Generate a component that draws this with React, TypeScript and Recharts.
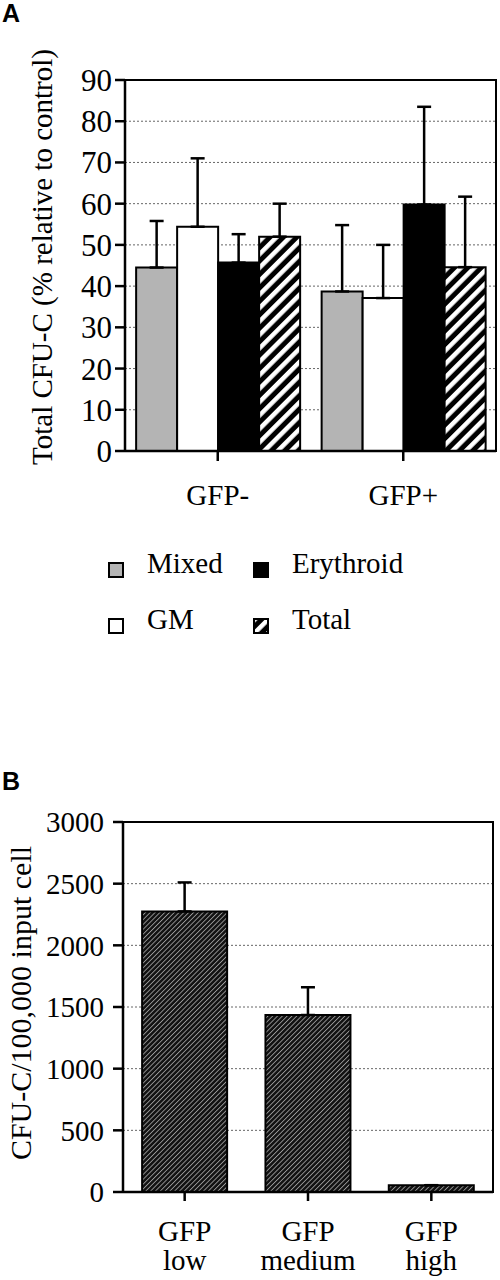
import {
  BarChart,
  Bar,
  XAxis,
  YAxis,
  CartesianGrid,
  ErrorBar,
  ReferenceArea,
  Label,
} from "recharts";

const SERIF = "'Liberation Serif', 'Times New Roman', serif";

// panel A
const groupsA = ["GFP-", "GFP+"];
const mixedVals = [44.5, 38.7];
const mixedErr = [11.3, 16.1];
const gmVals = [54.4, 37.1];
const gmErr = [16.6, 12.9];
const erythroidVals = [45.7, 59.8];
const erythroidErr = [6.9, 23.7];
const totalVals = [52, 44.6];
const totalErr = [8, 17.1];
const ticksA = [0, 10, 20, 30, 40, 50, 60, 70, 80, 90];

// panel B
const groupsB = ["GFP low", "GFP medium", "GFP high"];
const cfuVals = [2275, 1435, 55];
const cfuErr = [235, 225, 0];
const ticksB = [0, 500, 1000, 1500, 2000, 2500, 3000];

const seriesA = [
  { key: "mixed", name: "Mixed", fill: "#b4b4b4" },
  { key: "gm", name: "GM", fill: "#ffffff" },
  { key: "erythroid", name: "Erythroid", fill: "#000000" },
  { key: "total", name: "Total", fill: "url(#stripesA)" },
];
// legend is laid out row by row: Mixed, Erythroid / GM, Total
const legendOrder = ["mixed", "erythroid", "gm", "total"];

const dataA = groupsA.map((g, i) => ({
  group: g,
  mixed: mixedVals[i],
  mixedErr: [0, mixedErr[i]],
  gm: gmVals[i],
  gmErr: [0, gmErr[i]],
  erythroid: erythroidVals[i],
  erythroidErr: [0, erythroidErr[i]],
  total: totalVals[i],
  totalErr: [0, totalErr[i]],
}));

const dataB = groupsB.map((g, i) => ({
  group: g,
  value: cfuVals[i],
  err: [0, cfuErr[i]],
}));

const TwoLineTick = (props: any) => {
  const { x, y, payload } = props;
  const [first, ...rest] = String(payload.value).split(" ");
  return (
    <text x={x} y={y} textAnchor="middle" fill="#000" fontSize={29} fontFamily={SERIF}>
      <tspan x={x} dy="0.71em">{first}</tspan>
      <tspan x={x} dy="1em">{rest.join(" ")}</tspan>
    </text>
  );
};

const axisLabel = (text: string, x: number, y: number, size: number) => () =>
  (
    <text
      x={x}
      y={y}
      transform={`rotate(-90 ${x} ${y})`}
      textAnchor="middle"
      dominantBaseline="central"
      fill="#000"
      fontSize={size}
      fontFamily={SERIF}
    >
      {text}
    </text>
  );

const panelLetter = (letter: string, top: number) => (
  <div
    style={{
      position: "absolute",
      left: 2,
      top,
      fontFamily: "'Liberation Sans', Arial, sans-serif",
      fontWeight: 700,
      fontSize: 25,
      lineHeight: 1,
    }}
  >
    {letter}
  </div>
);

export default function App() {
  return (
    <div
      style={{
        position: "absolute",
        left: 0,
        top: 0,
        width: 500,
        height: 1280,
        background: "#fff",
        fontFamily: SERIF,
      }}
    >
      {panelLetter("A", 1)}
      <div style={{ position: "absolute", left: 0, top: 0 }}>
        <BarChart
          width={500}
          height={540}
          data={dataA}
          margin={{ top: 80, right: 4, left: 0, bottom: 29 }}
          barGap={0}
          barCategoryGap="6%"
        >
          <defs>
            <pattern
              id="stripesA"
              patternUnits="userSpaceOnUse"
              width={9.5}
              height={9.5}
              patternTransform="rotate(45)"
            >
              <rect x={0} y={0} width={9.5} height={9.5} fill="#000" />
              <rect x={0} y={0} width={4.5} height={9.5} fill="#fff" />
            </pattern>
          </defs>
          <CartesianGrid vertical={false} stroke="#666" strokeDasharray="2 2" strokeWidth={1} />
          <XAxis
            dataKey="group"
            height={60}
            axisLine={{ stroke: "#000", strokeWidth: 2.5 }}
            tickLine={{ stroke: "#000", strokeWidth: 2.5 }}
            tickSize={10}
            tickMargin={23}
            tick={{ fill: "#000", fontSize: 29, fontFamily: SERIF }}
          />
          <YAxis
            width={125}
            domain={[0, 90]}
            ticks={ticksA}
            interval={0}
            axisLine={{ stroke: "#000", strokeWidth: 2.5 }}
            tickLine={{ stroke: "#000", strokeWidth: 2.5 }}
            tickSize={10}
            tickMargin={3}
            tick={{ fill: "#000", fontSize: 31, fontFamily: SERIF }}
          >
            <Label content={axisLabel("Total CFU-C (% relative to control)", 42, 257, 29)} />
          </YAxis>
          <ReferenceArea
            y1={0}
            y2={90}
            fill="none"
            stroke="#000"
            strokeWidth={2}
            ifOverflow="visible"
          />
          {seriesA.map((s) => (
            <Bar
              key={s.key}
              dataKey={s.key}
              name={s.name}
              fill={s.fill}
              stroke="#000"
              strokeWidth={2}
              isAnimationActive={false}
            >
              <ErrorBar
                dataKey={`${s.key}Err`}
                width={7}
                stroke="#000"
                strokeWidth={2.5}
                direction="y"
              />
            </Bar>
          ))}
        </BarChart>
      </div>

      {legendOrder.map((k, i) => {
        const s = seriesA.find((x) => x.key === k)!;
        const left = 108 + (i % 2) * 145;
        const top = 562 + Math.floor(i / 2) * 56;
        return (
          <div key={k}>
            <svg
              style={{ position: "absolute", left, top }}
              width={16}
              height={16}
            >
              <rect x={1} y={1} width={14} height={14} fill={s.fill} stroke="#000" strokeWidth={2} />
            </svg>
            <div
              style={{
                position: "absolute",
                left: left + 39,
                top: top - 13,
                fontSize: 29,
                lineHeight: 1,
                whiteSpace: "nowrap",
              }}
            >
              {s.name}
            </div>
          </div>
        );
      })}

      {panelLetter("B", 769)}
      <div style={{ position: "absolute", left: 0, top: 740 }}>
        <BarChart
          width={500}
          height={540}
          data={dataB}
          margin={{ top: 82, right: 7, left: 0, bottom: 8 }}
          barCategoryGap="15.5%"
        >
          <defs>
            <pattern
              id="hatchB"
              patternUnits="userSpaceOnUse"
              width={3.4}
              height={3.4}
              patternTransform="rotate(45)"
            >
              <rect x={0} y={0} width={3.4} height={3.4} fill="#111" />
              <rect x={0} y={0} width={0.9} height={3.4} fill="#9a9a9a" />
            </pattern>
          </defs>
          <CartesianGrid vertical={false} stroke="#666" strokeDasharray="2 2" strokeWidth={1} />
          <XAxis
            dataKey="group"
            height={80}
            axisLine={{ stroke: "#000", strokeWidth: 2.5 }}
            tickLine={{ stroke: "#000", strokeWidth: 2.5 }}
            tickSize={9}
            tickMargin={19}
            tick={<TwoLineTick />}
          />
          <YAxis
            width={123}
            domain={[0, 3000]}
            ticks={ticksB}
            interval={0}
            axisLine={{ stroke: "#000", strokeWidth: 2.5 }}
            tickLine={{ stroke: "#000", strokeWidth: 2.5 }}
            tickSize={10}
            tickMargin={9}
            tick={{ fill: "#000", fontSize: 29, fontFamily: SERIF }}
          >
            <Label content={axisLabel("CFU-C/100,000 input cell", 20, 263, 30)} />
          </YAxis>
          <ReferenceArea
            y1={0}
            y2={3000}
            fill="none"
            stroke="#000"
            strokeWidth={2}
            ifOverflow="visible"
          />
          <Bar
            dataKey="value"
            fill="url(#hatchB)"
            stroke="#000"
            strokeWidth={2}
            isAnimationActive={false}
          >
            <ErrorBar dataKey="err" width={7} stroke="#000" strokeWidth={2.5} direction="y" />
          </Bar>
        </BarChart>
      </div>
    </div>
  );
}
